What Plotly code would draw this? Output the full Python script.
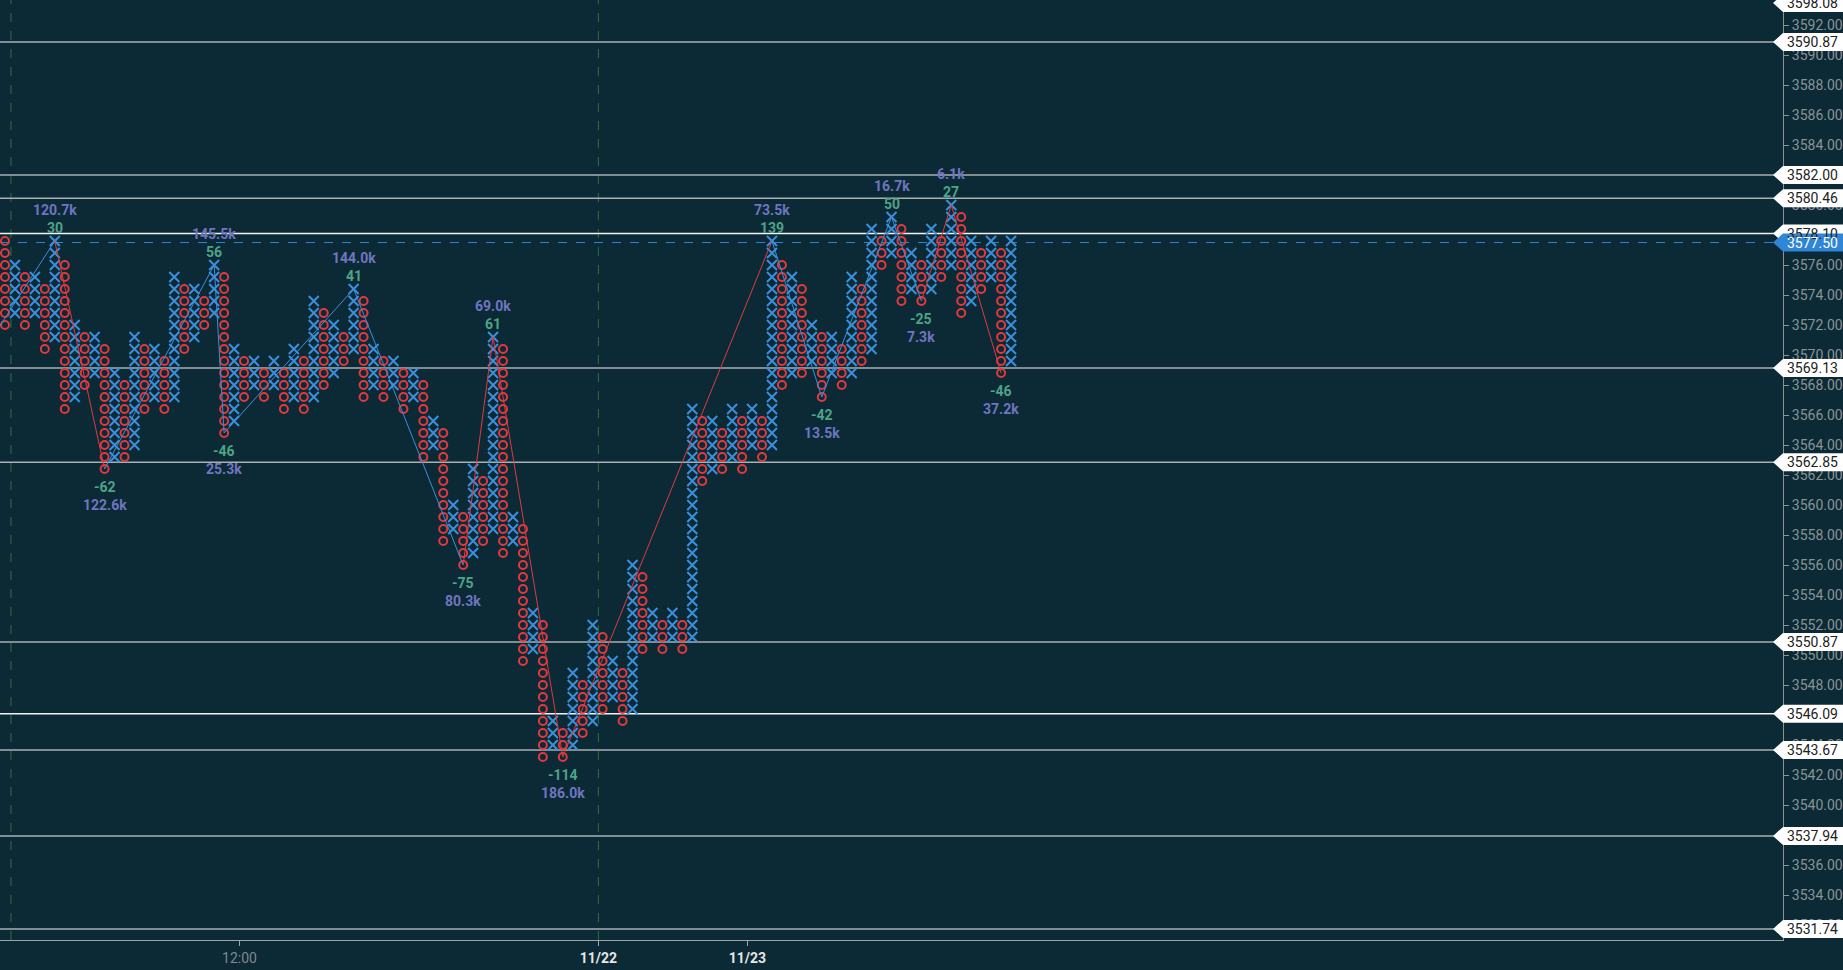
import plotly.graph_objects as go

# ---------------- data ----------------
BOX = 0.8
col_type = "OX" * 51  # alternating O / X columns, first column is O

col_top = [3577.6, 3576.0, 3575.2, 3575.2, 3574.4, 3577.6, 3576.0, 3572.0, 3571.2, 3571.2,
           3570.4, 3568.8, 3568.0, 3571.2, 3570.4, 3570.4, 3569.6, 3575.2, 3574.4, 3574.4,
           3573.6, 3576.0, 3575.2, 3570.4, 3569.6, 3569.6, 3568.8, 3569.6, 3568.8, 3570.4,
           3569.6, 3573.6, 3572.8, 3572.0, 3571.2, 3574.4, 3573.6, 3570.4, 3569.6, 3569.6,
           3568.8, 3568.8, 3568.0, 3565.6, 3564.8, 3560.0, 3559.2, 3562.4, 3561.6, 3571.2,
           3570.4, 3559.2, 3558.4, 3552.8, 3552.0, 3545.6, 3544.8, 3548.8, 3548.0, 3552.0,
           3551.2, 3549.6, 3548.8, 3556.0, 3555.2, 3552.8, 3552.0, 3552.8, 3552.0, 3566.4,
           3565.6, 3565.6, 3564.8, 3566.4, 3565.6, 3566.4, 3565.6, 3577.6, 3576.0, 3575.2,
           3574.4, 3572.0, 3571.2, 3571.2, 3570.4, 3575.2, 3574.4, 3578.4, 3577.6, 3579.2,
           3578.4, 3576.8, 3576.0, 3578.4, 3577.6, 3580.0, 3579.2, 3577.6, 3576.8, 3577.6,
           3576.8, 3577.6]
col_bot = [3572.0, 3572.8, 3572.0, 3572.8, 3570.4, 3571.2, 3566.4, 3567.2, 3568.0, 3568.8,
           3562.4, 3563.2, 3563.2, 3564.0, 3566.4, 3567.2, 3566.4, 3567.2, 3570.4, 3571.2,
           3572.0, 3572.8, 3564.8, 3565.6, 3567.2, 3568.0, 3567.2, 3568.0, 3566.4, 3567.2,
           3566.4, 3567.2, 3568.0, 3568.8, 3569.6, 3570.4, 3567.2, 3568.0, 3567.2, 3568.0,
           3566.4, 3567.2, 3563.2, 3564.0, 3557.6, 3558.4, 3556.0, 3556.8, 3557.6, 3558.4,
           3556.8, 3557.6, 3549.6, 3550.4, 3543.2, 3544.0, 3543.2, 3544.0, 3544.8, 3545.6,
           3546.4, 3547.2, 3545.6, 3546.4, 3550.4, 3551.2, 3550.4, 3551.2, 3550.4, 3551.2,
           3561.6, 3562.4, 3562.4, 3563.2, 3562.4, 3564.0, 3563.2, 3564.0, 3568.0, 3568.8,
           3568.8, 3569.6, 3567.2, 3568.8, 3568.0, 3568.8, 3569.6, 3570.4, 3576.0, 3576.8,
           3573.6, 3574.4, 3573.6, 3574.4, 3575.2, 3576.0, 3572.8, 3573.6, 3574.4, 3575.2,
           3568.8, 3569.6]

pivot_col = [-2, 5, 10, 21, 22, 35, 46, 49, 56, 77, 82, 89, 92, 95, 100]
pivot_price = [3570.4, 3577.6, 3562.4, 3576.0, 3564.8, 3574.4, 3556.0, 3571.2, 3543.2,
               3577.6, 3567.2, 3579.2, 3573.6, 3580.0, 3568.8]
pivot_count = ["", "30", "-62", "56", "-46", "41", "-75", "61", "-114", "139", "-42",
               "50", "-25", "27", "-46"]
pivot_vol = ["", "120.7k", "122.6k", "145.5k", "25.3k", "144.0k", "80.3k", "69.0k",
             "186.0k", "73.5k", "13.5k", "16.7k", "7.3k", "6.1k", "37.2k"]
segment_trend = ["up", "dn", "up", "up", "up", "up", "dn", "dn", "dn", "up", "up", "up", "dn", "dn"]

levels = [3598.08, 3590.87, 3582.00, 3580.46, 3578.10, 3569.13, 3562.85, 3550.87,
          3546.09, 3543.67, 3537.94, 3531.74]
strong_levels = [3578.10, 3546.09]
last_price = 3577.50

y_ticks = list(range(3532, 3593, 2))
x_tick_pos = [23.54, 59.57, 74.53]
x_tick_text = ["12:00", "11/22", "11/23"]
day_lines = [0.6, 59.57]

# ---------------- style ----------------
BG = "#0b2a35"
XCOL = "#3b8fdc"
OCOL = "#e2393f"
GREEN = "#4fa388"
PURPLE = "#7075c0"
FONT = "Roboto"
X0, X1 = -0.5, 178.5
Y0, Y1 = 3531.0, 3593.67
PLOT_W, PLOT_H = 1790, 940

# ---------------- build markers ----------------
xs_x, ys_x, xs_o, ys_o = [], [], [], []
for i, (t, b) in enumerate(zip(col_top, col_bot)):
    n = int(round((t - b) / BOX)) + 1
    for k in range(n):
        y = t - k * BOX
        if col_type[i] == "X":
            xs_x.append(i); ys_x.append(y)
        else:
            xs_o.append(i); ys_o.append(y)

fig = go.Figure()
fig.add_trace(go.Scatter(x=xs_x, y=ys_x, mode="markers", hoverinfo="skip",
                         marker=dict(symbol="x-thin", size=10, color=XCOL,
                                     line=dict(width=2, color=XCOL))))
fig.add_trace(go.Scatter(x=xs_o, y=ys_o, mode="markers", hoverinfo="skip",
                         marker=dict(symbol="circle-open", size=8, color=OCOL,
                                     line=dict(width=2, color=OCOL))))

# zigzag lines
for k, trend in enumerate(segment_trend):
    fig.add_trace(go.Scatter(x=pivot_col[k:k + 2], y=pivot_price[k:k + 2], mode="lines",
                             hoverinfo="skip",
                             line=dict(width=1, color=XCOL if trend == "up" else OCOL)))

annotations = []
for c, p, cnt, vol in zip(pivot_col, pivot_price, pivot_count, pivot_vol):
    if not cnt:
        continue
    top = not cnt.startswith("-")
    s = 1 if top else -1
    annotations.append(dict(x=c, y=p, xref="x", yref="y", text="<b>%s</b>" % cnt,
                            showarrow=False, yshift=s * (13 if top else 18),
                            font=dict(family=FONT, size=14, color=GREEN)))
    annotations.append(dict(x=c, y=p, xref="x", yref="y", text="<b>%s</b>" % vol,
                            showarrow=False, yshift=s * (31 if top else 36),
                            font=dict(family=FONT, size=14, color=PURPLE)))

shapes = []
# day separators
for d in day_lines:
    shapes.append(dict(type="line", xref="x", yref="paper", x0=d, x1=d, y0=0, y1=1,
                       layer="below", line=dict(color="#2f7040", width=1, dash="dash")))
# level lines
for v in levels:
    if Y0 <= v <= Y1:
        col = "#f2f2f2" if v in strong_levels else "#a9b0b3"
        shapes.append(dict(type="line", xref="paper", yref="y", x0=0, x1=1, y0=v, y1=v,
                           layer="below", line=dict(color=col, width=1.5)))
# last price dashed line
shapes.append(dict(type="line", xref="paper", yref="y", x0=0, x1=1, y0=last_price,
                   y1=last_price, layer="below",
                   line=dict(color="#2f86d6", width=1, dash="dash")))


def tag(v, fill, txtcol):
    py = (v - Y0) / (Y1 - Y0)
    py = min(py, 1 - 3 / PLOT_H)
    hh = 9 / PLOT_H
    tip = 1 - 10 / PLOT_W
    right = 1.05
    path = "M %f,%f L 1,%f L %f,%f L %f,%f L 1,%f Z" % (tip, py, py + hh, right, py + hh,
                                                       right, py - hh, py - hh)
    shapes.append(dict(type="path", xref="paper", yref="paper", path=path,
                       fillcolor=fill, line=dict(width=0), layer="above"))
    annotations.append(dict(x=1, y=py, xref="paper", yref="paper", text="%.2f" % v,
                            xanchor="left", yanchor="middle", xshift=2, showarrow=False,
                            font=dict(family=FONT, size=14, color=txtcol)))


for v in levels:
    tag(v, "#ffffff", "#222222")
tag(last_price, "#2f86d6", "#ffffff")

tick_text_x = []
for t in x_tick_text:
    if ":" in t:
        tick_text_x.append("<span style='color:#7f898d'>%s</span>" % t)
    else:
        tick_text_x.append("<b>%s</b>" % t)

fig.update_layout(
    width=1843, height=970,
    margin=dict(l=0, r=53, t=0, b=30),
    paper_bgcolor=BG, plot_bgcolor=BG,
    showlegend=False,
    shapes=shapes, annotations=annotations,
    xaxis=dict(range=[X0, X1], showgrid=False, zeroline=False, showline=True,
               linecolor="#9ea5a8", linewidth=1, ticks="outside", ticklen=5,
               tickcolor="#9ea5a8", tickvals=x_tick_pos, ticktext=tick_text_x,
               tickfont=dict(family=FONT, size=14, color="#e6e6e6")),
    yaxis=dict(range=[Y0, Y1], side="right", showgrid=False, zeroline=False,
               showline=True, linecolor="#8a9296", linewidth=1, ticks="outside",
               ticklen=5, tickcolor="#8a9296", tickvals=y_ticks,
               ticktext=["%.2f" % t for t in y_ticks],
               tickfont=dict(family=FONT, size=14, color="#8a9397")),
)

fig.write_html("out.html", config={"displayModeBar": False},
               post_script="document.body.style.margin='0px';")
